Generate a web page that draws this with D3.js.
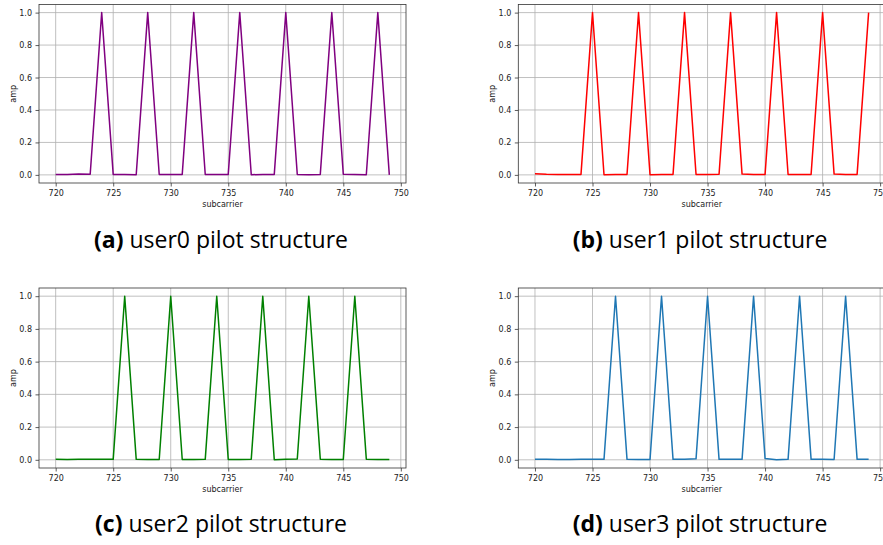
<!DOCTYPE html>
<html>
<head>
<meta charset="utf-8">
<script src="https://cdn.jsdelivr.net/npm/d3@7"></script>
<style>
  body { margin: 0; background: #fff; }
  svg { display: block; }
  .tick text { font-family: "DejaVu Sans", sans-serif; font-size: 8px; fill: #222; }
  .axis-label { font-family: "DejaVu Sans", sans-serif; font-size: 8px; fill: #222; }
  .caption { font-family: "Open Sans", sans-serif; font-size: 23px; fill: #000; }
</style>
</head>
<body>
<svg id="chart" width="883" height="545"></svg>
<script>
// subcarrier index, 720..749
var subcarriers = [720, 721, 722, 723, 724, 725, 726, 727, 728, 729,
                   730, 731, 732, 733, 734, 735, 736, 737, 738, 739,
                   740, 741, 742, 743, 744, 745, 746, 747, 748, 749];

var user0Amp = [0.002, 0.003, 0.005, 0.004, 1.0, 0.002, 0.003, 0.001, 1.0, 0.002,
                0.002, 0.003, 1.0, 0.002, 0.002, 0.003, 1.0, 0.001, 0.003, 0.003,
                1.0, 0.002, 0.001, 0.003, 1.0, 0.004, 0.003, 0.001, 1.0, 0.0];
var user1Amp = [0.007, 0.004, 0.003, 0.003, 0.003, 1.0, 0.001, 0.002, 0.002, 1.0,
                0.001, 0.002, 0.003, 1.0, 0.002, 0.002, 0.004, 1.0, 0.005, 0.002,
                0.002, 1.0, 0.002, 0.002, 0.002, 1.0, 0.005, 0.003, 0.003, 1.0];
var user2Amp = [0.004, 0.002, 0.004, 0.004, 0.003, 0.003, 1.0, 0.003, 0.002, 0.002,
                1.0, 0.002, 0.002, 0.003, 1.0, 0.002, 0.002, 0.004, 1.0, 0.001,
                0.003, 0.005, 1.0, 0.004, 0.002, 0.002, 1.0, 0.004, 0.002, 0.002];
var user3Amp = [0.003, 0.003, 0.002, 0.002, 0.003, 0.003, 0.003, 1.0, 0.003, 0.002,
                0.002, 1.0, 0.003, 0.003, 0.006, 1.0, 0.003, 0.003, 0.003, 1.0,
                0.008, 0.001, 0.003, 1.0, 0.003, 0.003, 0.002, 1.0, 0.003, 0.003];

var xTicks = [720, 725, 730, 735, 740, 745, 750];
var yTicks = [0.0, 0.2, 0.4, 0.6, 0.8, 1.0];

var panelLetters = ['(a)', '(b)', '(c)', '(d)'];
var panelTitles = ['user0 pilot structure', 'user1 pilot structure',
                   'user2 pilot structure', 'user3 pilot structure'];
var lineColors = ['#800080', '#ff0000', '#008000', '#1f77b4'];

var series = [user0Amp, user1Amp, user2Amp, user3Amp];

// panel frames in page pixels
var panels = [
  {x: 39,    y: 4.5,   w: 367, h: 178.5, cx: 221, cy: 248},
  {x: 518.3, y: 4.5,   w: 367, h: 178.5, cx: 700, cy: 248},
  {x: 39,    y: 288,   w: 367, h: 180,   cx: 221, cy: 532},
  {x: 518.3, y: 288,   w: 367, h: 180,   cx: 700, cy: 532}
];

var svg = d3.select('#chart');

panels.forEach(function(p, i) {
  var xMin = d3.min(subcarriers), xMax = d3.max(subcarriers);
  var xPad = (xMax - xMin) * 0.05;
  var x = d3.scaleLinear()
      .domain([xMin - xPad, xMax + xPad])
      .range([0, p.w]);
  var y = d3.scaleLinear()
      .domain([-0.05, 1.05])
      .range([p.h, 0]);

  var g = svg.append('g')
      .attr('transform', 'translate(' + p.x + ',' + p.y + ')');

  // grid
  g.append('g').selectAll('line')
      .data(xTicks.filter(function(t) { return x(t) <= p.w; }))
    .enter().append('line')
      .attr('x1', function(d) { return x(d); })
      .attr('x2', function(d) { return x(d); })
      .attr('y1', 0).attr('y2', p.h)
      .attr('stroke', '#b0b0b0').attr('stroke-width', 0.8);
  g.append('g').selectAll('line')
      .data(yTicks)
    .enter().append('line')
      .attr('x1', 0).attr('x2', p.w)
      .attr('y1', function(d) { return y(d); })
      .attr('y2', function(d) { return y(d); })
      .attr('stroke', '#b0b0b0').attr('stroke-width', 0.8);

  // line
  var line = d3.line()
      .x(function(d) { return x(d[0]); })
      .y(function(d) { return y(d[1]); });
  g.append('path')
      .datum(d3.zip(subcarriers, series[i]))
      .attr('d', line)
      .attr('fill', 'none')
      .attr('stroke', lineColors[i])
      .attr('stroke-width', 1.5)
      .attr('stroke-linejoin', 'round');

  // frame
  g.append('rect')
      .attr('width', p.w).attr('height', p.h)
      .attr('fill', 'none')
      .attr('stroke', '#333').attr('stroke-width', 0.8);

  // axes
  var xAxis = g.append('g')
      .attr('transform', 'translate(0,' + p.h + ')')
      .call(d3.axisBottom(x).tickValues(xTicks).tickSize(3.5).tickPadding(3.5).tickFormat(d3.format('d')));
  var yAxis = g.append('g')
      .call(d3.axisLeft(y).tickValues(yTicks).tickSize(3.5).tickPadding(3.5).tickFormat(d3.format('.1f')));
  [xAxis, yAxis].forEach(function(a) {
    a.select('.domain').remove();
    a.selectAll('.tick line').attr('stroke', '#333').attr('stroke-width', 0.8);
  });

  g.append('text')
      .attr('class', 'axis-label')
      .attr('x', p.w / 2)
      .attr('y', p.h + 24)
      .attr('text-anchor', 'middle')
      .text('subcarrier');
  g.append('text')
      .attr('class', 'axis-label')
      .attr('transform', 'translate(-23,' + (p.h / 2) + ') rotate(-90)')
      .attr('text-anchor', 'middle')
      .text('amp');

  // caption
  var cap = svg.append('text')
      .attr('class', 'caption')
      .attr('x', p.cx)
      .attr('y', p.cy)
      .attr('text-anchor', 'middle');
  cap.append('tspan').attr('font-weight', 'bold').text(panelLetters[i]);
  cap.append('tspan').text(' ' + panelTitles[i]);
});
</script>
</body>
</html>
